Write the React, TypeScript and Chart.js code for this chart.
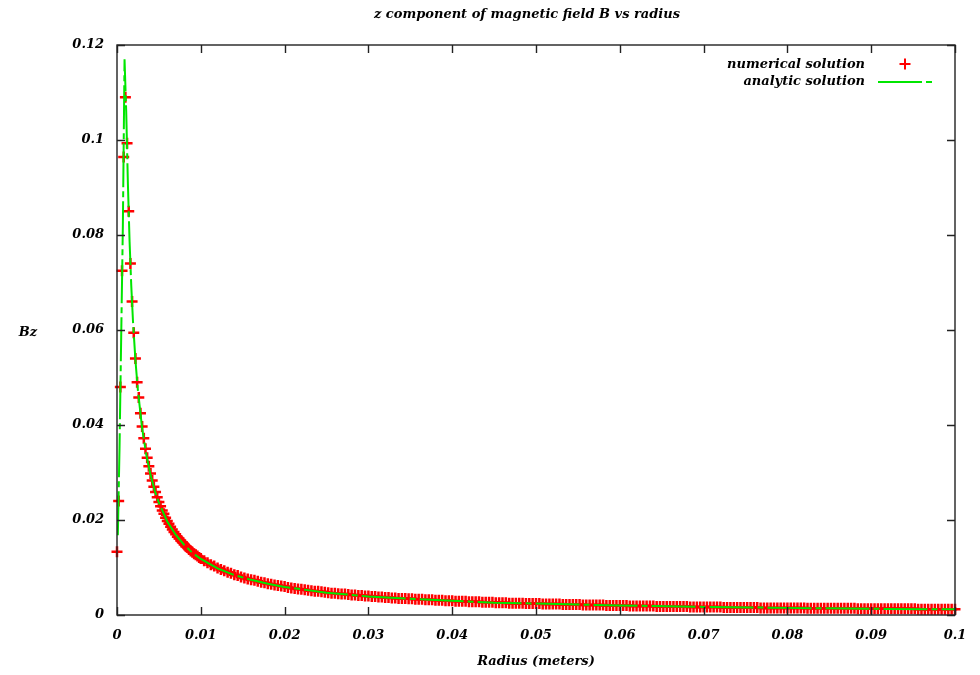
import { useEffect, useRef } from 'react';
import { Chart, registerables } from 'chart.js';

Chart.register(...registerables);

const chartTitle = 'z component of magnetic field B vs radius';
const xAxisTitle = 'Radius (meters)';
const yAxisTitle = 'Bz';
const numericalLabel = 'numerical solution';
const analyticLabel = 'analytic solution';

const xTickValues = [0, 0.01, 0.02, 0.03, 0.04, 0.05, 0.06, 0.07, 0.08, 0.09, 0.1];
const xTickLabels = ['0', '0.01', '0.02', '0.03', '0.04', '0.05', '0.06', '0.07', '0.08', '0.09', '0.1'];
const yTickValues = [0, 0.02, 0.04, 0.06, 0.08, 0.1, 0.12];
const yTickLabels = ['0', '0.02', '0.04', '0.06', '0.08', '0.1', '0.12'];

const numericalR = [
  0, 0.0002, 0.0004, 0.0006, 0.0008, 0.001, 0.0012, 0.0014, 0.0016, 0.0018,
  0.002, 0.0022, 0.0024, 0.0026, 0.0028, 0.003, 0.0032, 0.0034, 0.0036, 0.0038,
  0.004, 0.0042, 0.0044, 0.0046, 0.0048, 0.005, 0.0052, 0.0054, 0.0056, 0.0058,
  0.006, 0.0062, 0.0064, 0.0066, 0.0068, 0.007, 0.0072, 0.0074, 0.0076, 0.0078,
  0.008, 0.0082, 0.0084, 0.0086, 0.0088, 0.009, 0.0092, 0.0094, 0.0096, 0.0098,
  0.01,
  0.0104, 0.0108, 0.0112, 0.0116, 0.012, 0.0124, 0.0128, 0.0132, 0.0136, 0.014, 0.0144, 0.0148, 0.0152,
  0.0156, 0.016, 0.0164, 0.0168, 0.0172, 0.0176, 0.018, 0.0184, 0.0188, 0.0192, 0.0196, 0.02,
  0.0204, 0.0208, 0.0212, 0.0216, 0.022, 0.0224, 0.0228, 0.0232, 0.0236, 0.024, 0.0244, 0.0248, 0.0252,
  0.0256, 0.026, 0.0264, 0.0268, 0.0272, 0.0276, 0.028, 0.0284, 0.0288, 0.0292, 0.0296, 0.03,
  0.0304, 0.0308, 0.0312, 0.0316, 0.032, 0.0324, 0.0328, 0.0332, 0.0336, 0.034, 0.0344, 0.0348, 0.0352,
  0.0356, 0.036, 0.0364, 0.0368, 0.0372, 0.0376, 0.038, 0.0384, 0.0388, 0.0392, 0.0396, 0.04,
  0.0404, 0.0408, 0.0412, 0.0416, 0.042, 0.0424, 0.0428, 0.0432, 0.0436, 0.044, 0.0444, 0.0448, 0.0452,
  0.0456, 0.046, 0.0464, 0.0468, 0.0472, 0.0476, 0.048, 0.0484, 0.0488, 0.0492, 0.0496, 0.05,
  0.0504, 0.0508, 0.0512, 0.0516, 0.052, 0.0524, 0.0528, 0.0532, 0.0536, 0.054, 0.0544, 0.0548, 0.0552,
  0.0556, 0.056, 0.0564, 0.0568, 0.0572, 0.0576, 0.058, 0.0584, 0.0588, 0.0592, 0.0596, 0.06,
  0.0604, 0.0608, 0.0612, 0.0616, 0.062, 0.0624, 0.0628, 0.0632, 0.0636, 0.064, 0.0644, 0.0648, 0.0652,
  0.0656, 0.066, 0.0664, 0.0668, 0.0672, 0.0676, 0.068, 0.0684, 0.0688, 0.0692, 0.0696, 0.07,
  0.0704, 0.0708, 0.0712, 0.0716, 0.072, 0.0724, 0.0728, 0.0732, 0.0736, 0.074, 0.0744, 0.0748, 0.0752,
  0.0756, 0.076, 0.0764, 0.0768, 0.0772, 0.0776, 0.078, 0.0784, 0.0788, 0.0792, 0.0796, 0.08,
  0.0804, 0.0808, 0.0812, 0.0816, 0.082, 0.0824, 0.0828, 0.0832, 0.0836, 0.084, 0.0844, 0.0848, 0.0852,
  0.0856, 0.086, 0.0864, 0.0868, 0.0872, 0.0876, 0.088, 0.0884, 0.0888, 0.0892, 0.0896, 0.09,
  0.0904, 0.0908, 0.0912, 0.0916, 0.092, 0.0924, 0.0928, 0.0932, 0.0936, 0.094, 0.0944, 0.0948, 0.0952,
  0.0956, 0.096, 0.0964, 0.0968, 0.0972, 0.0976, 0.098, 0.0984, 0.0988, 0.0992, 0.0996, 0.1,
];

const numericalBz = [
  0.0133, 0.024, 0.048, 0.0725, 0.0964, 0.109, 0.0993, 0.085, 0.074, 0.066,
  0.0594, 0.054, 0.049, 0.0458, 0.0425, 0.0397, 0.0372, 0.035, 0.0331, 0.0313,
  0.0298, 0.0283, 0.027, 0.0259, 0.0248, 0.0238, 0.0229, 0.022, 0.0213, 0.0205,
  0.0198, 0.0192, 0.0186, 0.018, 0.0175, 0.017, 0.0165, 0.0161, 0.0157, 0.0153,
  0.0149, 0.0145, 0.0142, 0.0138, 0.0135, 0.0132, 0.0129, 0.0127, 0.0124, 0.0121,
  0.0119,
  0.0114, 0.011, 0.0106, 0.0103, 0.0099, 0.0096, 0.0093, 0.009, 0.0088, 0.0085, 0.0083, 0.008, 0.0078,
  0.0076, 0.0074, 0.0073, 0.0071, 0.0069, 0.0068, 0.0066, 0.0065, 0.0063, 0.0062, 0.0061, 0.006,
  0.0058, 0.0057, 0.0056, 0.0055, 0.0054, 0.0053, 0.0052, 0.0051, 0.005, 0.005, 0.0049, 0.0048, 0.0047,
  0.0046, 0.0046, 0.0045, 0.0044, 0.0044, 0.0043, 0.0042, 0.0042, 0.0041, 0.0041, 0.004, 0.004,
  0.0039, 0.0039, 0.0038, 0.0038, 0.0037, 0.0037, 0.0036, 0.0036, 0.0035, 0.0035, 0.0035, 0.0034, 0.0034,
  0.0033, 0.0033, 0.0033, 0.0032, 0.0032, 0.0032, 0.0031, 0.0031, 0.0031, 0.003, 0.003, 0.003,
  0.0029, 0.0029, 0.0029, 0.0029, 0.0028, 0.0028, 0.0028, 0.0028, 0.0027, 0.0027, 0.0027, 0.0027, 0.0026,
  0.0026, 0.0026, 0.0026, 0.0025, 0.0025, 0.0025, 0.0025, 0.0025, 0.0024, 0.0024, 0.0024, 0.0024,
  0.0024, 0.0023, 0.0023, 0.0023, 0.0023, 0.0023, 0.0023, 0.0022, 0.0022, 0.0022, 0.0022, 0.0022, 0.0022,
  0.0021, 0.0021, 0.0021, 0.0021, 0.0021, 0.0021, 0.0021, 0.002, 0.002, 0.002, 0.002, 0.002,
  0.002, 0.002, 0.0019, 0.0019, 0.0019, 0.0019, 0.0019, 0.0019, 0.0019, 0.0019, 0.0018, 0.0018, 0.0018,
  0.0018, 0.0018, 0.0018, 0.0018, 0.0018, 0.0018, 0.0018, 0.0017, 0.0017, 0.0017, 0.0017, 0.0017,
  0.0017, 0.0017, 0.0017, 0.0017, 0.0017, 0.0016, 0.0016, 0.0016, 0.0016, 0.0016, 0.0016, 0.0016, 0.0016,
  0.0016, 0.0016, 0.0016, 0.0015, 0.0015, 0.0015, 0.0015, 0.0015, 0.0015, 0.0015, 0.0015, 0.0015,
  0.0015, 0.0015, 0.0015, 0.0015, 0.0015, 0.0014, 0.0014, 0.0014, 0.0014, 0.0014, 0.0014, 0.0014, 0.0014,
  0.0014, 0.0014, 0.0014, 0.0014, 0.0014, 0.0014, 0.0014, 0.0013, 0.0013, 0.0013, 0.0013, 0.0013,
  0.0013, 0.0013, 0.0013, 0.0013, 0.0013, 0.0013, 0.0013, 0.0013, 0.0013, 0.0013, 0.0013, 0.0013, 0.0013,
  0.0012, 0.0012, 0.0012, 0.0012, 0.0012, 0.0012, 0.0012, 0.0012, 0.0012, 0.0012, 0.0012, 0.0012,
];

const analyticR = [
  0.0001, 0.0003, 0.0005, 0.0007, 0.0009, 0.0011, 0.0013, 0.0015, 0.0017, 0.0019,
  0.0022, 0.0025, 0.003, 0.0035, 0.004, 0.0045, 0.005, 0.006, 0.007, 0.008,
  0.009, 0.01, 0.012, 0.014, 0.016, 0.018, 0.02, 0.025, 0.03, 0.035,
  0.04, 0.045, 0.05, 0.06, 0.07, 0.08, 0.09, 0.1,
];
const analyticBz = [
  0.0168, 0.035, 0.0585, 0.082, 0.117, 0.106, 0.0908, 0.0787, 0.0694, 0.0621,
  0.0536, 0.0472, 0.0393, 0.0337, 0.0295, 0.0262, 0.0236, 0.0197, 0.0169, 0.0148,
  0.0131, 0.0118, 0.0098, 0.0084, 0.0074, 0.0066, 0.0059, 0.0047, 0.0039, 0.0034,
  0.003, 0.0026, 0.0024, 0.002, 0.0017, 0.0015, 0.0013, 0.0012,
];

const FONT_FAMILY = '"DejaVu Serif", "Liberation Serif", serif';
const TEXT_FONT = `italic bold 13px ${FONT_FAMILY}`;
const RED = '#ff0000';
const GREEN = '#00e600';
const GREEN_DASH = [44, 4, 6, 4];
const PLUS_RADIUS = 5.5;

const gnuplotFrame = {
  id: 'gnuplotFrame',
  afterDatasetsDraw(chart: any) {
    const { ctx, chartArea: a, scales } = chart;
    const xs = scales.x;
    const ys = scales.y;
    ctx.save();
    ctx.strokeStyle = '#222';
    ctx.lineWidth = 1.4;
    ctx.strokeRect(a.left, a.top, a.right - a.left, a.bottom - a.top);
    ctx.beginPath();
    const tl = 8;
    xTickValues.forEach((v) => {
      const px = Math.round(xs.getPixelForValue(v)) + 0.5;
      ctx.moveTo(px, a.bottom);
      ctx.lineTo(px, a.bottom - tl);
      ctx.moveTo(px, a.top);
      ctx.lineTo(px, a.top + tl);
    });
    yTickValues.forEach((v) => {
      const py = Math.round(ys.getPixelForValue(v)) + 0.5;
      ctx.moveTo(a.left, py);
      ctx.lineTo(a.left + tl, py);
      ctx.moveTo(a.right, py);
      ctx.lineTo(a.right - tl, py);
    });
    ctx.stroke();

    // legend (gnuplot style, inside top right)
    ctx.fillStyle = '#000';
    ctx.font = TEXT_FONT;
    ctx.textAlign = 'right';
    ctx.textBaseline = 'middle';
    const textRight = a.right - 90;
    ctx.fillText(numericalLabel, textRight, a.top + 20);
    ctx.fillText(analyticLabel, textRight, a.top + 37);
    // red plus sample
    const cx = a.right - 50;
    const cy = a.top + 19;
    ctx.strokeStyle = RED;
    ctx.lineWidth = 2;
    ctx.beginPath();
    ctx.moveTo(cx - PLUS_RADIUS, cy);
    ctx.lineTo(cx + PLUS_RADIUS, cy);
    ctx.moveTo(cx, cy - PLUS_RADIUS);
    ctx.lineTo(cx, cy + PLUS_RADIUS);
    ctx.stroke();
    // green dash sample
    ctx.strokeStyle = GREEN;
    ctx.lineWidth = 2;
    ctx.setLineDash(GREEN_DASH);
    ctx.beginPath();
    ctx.moveTo(a.right - 77, a.top + 37);
    ctx.lineTo(a.right - 23, a.top + 37);
    ctx.stroke();
    ctx.setLineDash([]);

    // titles
    ctx.fillStyle = '#000';
    ctx.textAlign = 'center';
    ctx.font = TEXT_FONT;
    const mid = (a.left + a.right) / 2;
    ctx.fillText(chartTitle, mid - 9, 15);
    ctx.fillText(xAxisTitle, mid, 662);
    ctx.fillText(yAxisTitle, 28, (a.top + a.bottom) / 2 + 3);
    ctx.restore();
  },
};

export default function App() {
  const canvasRef = useRef<HTMLCanvasElement | null>(null);

  useEffect(() => {
    const canvas = canvasRef.current;
    if (!canvas) return;
    const tickFont = { family: FONT_FAMILY, size: 13, style: 'italic' as const, weight: 'bold' as const };
    const chart = new Chart(canvas, {
      type: 'scatter',
      data: {
        datasets: [
          {
            label: numericalLabel,
            data: numericalR.map((r, i) => ({ x: r, y: numericalBz[i] })),
            showLine: false,
            pointStyle: 'cross',
            pointRadius: PLUS_RADIUS,
            pointBorderWidth: 2.5,
            borderColor: RED,
            backgroundColor: RED,
            clip: 8,
            order: 2,
          },
          {
            label: analyticLabel,
            data: analyticR.map((r, i) => ({ x: r, y: analyticBz[i] })),
            showLine: true,
            pointRadius: 0,
            borderColor: GREEN,
            backgroundColor: GREEN,
            borderWidth: 2,
            borderDash: GREEN_DASH,
            tension: 0,
            order: 1,
          },
        ],
      },
      options: {
        animation: false,
        responsive: false,
        devicePixelRatio: 1,
        layout: { padding: { top: 45, right: 25, left: 0, bottom: 0 } },
        plugins: {
          legend: { display: false },
          tooltip: { enabled: false },
          title: { display: false },
        },
        scales: {
          x: {
            type: 'linear',
            min: 0,
            max: 0.1,
            grid: { display: false, drawTicks: false },
            border: { display: false },
            afterBuildTicks: (s: any) => {
              s.ticks = xTickValues.map((v) => ({ value: v }));
            },
            afterFit: (s: any) => {
              s.height = 60;
            },
            ticks: {
              padding: 13,
              maxRotation: 0,
              autoSkip: false,
              color: '#000',
              font: tickFont,
              callback: (_v: any, i: number) => xTickLabels[i],
            },
          },
          y: {
            type: 'linear',
            min: 0,
            max: 0.12,
            grid: { display: false, drawTicks: false },
            border: { display: false },
            afterBuildTicks: (s: any) => {
              s.ticks = yTickValues.map((v) => ({ value: v }));
            },
            afterFit: (s: any) => {
              s.width = 117;
            },
            ticks: {
              padding: 13,
              autoSkip: false,
              color: '#000',
              font: tickFont,
              callback: (_v: any, i: number) => yTickLabels[i],
            },
          },
        },
      },
      plugins: [gnuplotFrame],
    });
    return () => chart.destroy();
  }, []);

  return (
    <div style={{ position: 'absolute', left: 0, top: 0, width: 980, height: 675, background: '#fff' }}>
      <canvas ref={canvasRef} width={980} height={675} style={{ display: 'block' }} />
    </div>
  );
}
